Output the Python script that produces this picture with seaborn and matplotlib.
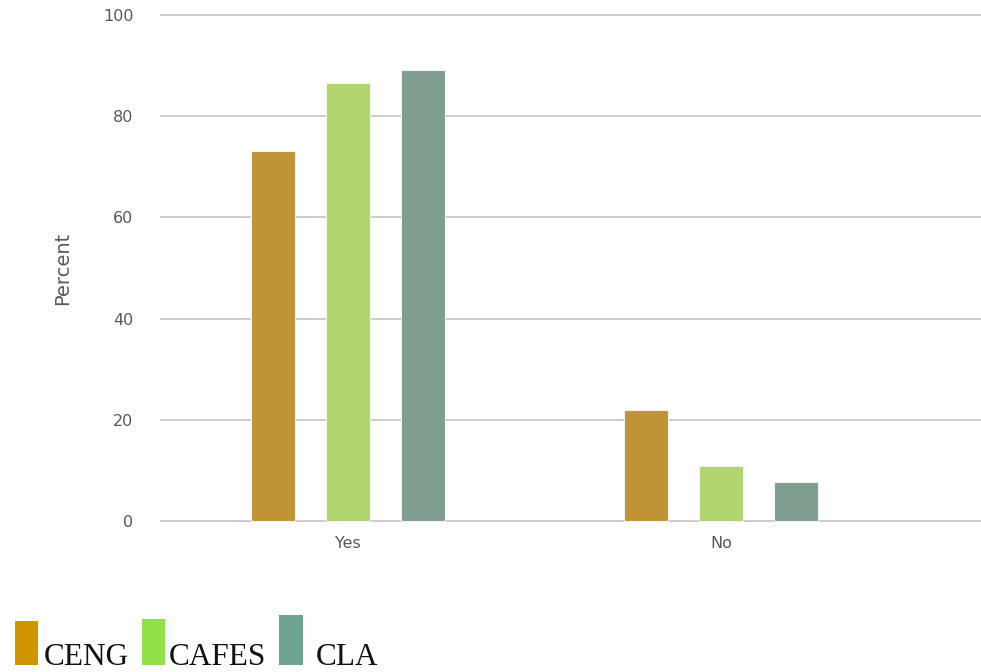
import matplotlib
matplotlib.use("Agg")
import matplotlib.pyplot as plt
from matplotlib.patches import Rectangle
import seaborn as sns
import pandas as pd

# Survey answers by college
answers = ["Yes", "No"]
colleges = ["CENG", "CAFES", "CLA"]
ceng = [73.2, 22.0]
cafes = [86.5, 10.8]
cla = [89.1, 7.8]

bar_colors = ["#C09436", "#B0D46E", "#7F9E90"]
key_colors = ["#D09600", "#90E04A", "#6FA590"]

df = pd.DataFrame({
    "Answer": answers * 3,
    "College": [c for c in colleges for _ in answers],
    "Percent": ceng + cafes + cla,
})

sns.set_theme(style="white")
plt.rcParams["font.family"] = ["DejaVu Sans"]

fig = plt.figure(figsize=(9.81, 6.72), dpi=100)
# axes spans y from -0.3 to 100.3 so the 0 and 100 grid lines show fully
px_per_unit = (521 - 15) / 100.0
bot_px = 521 + 0.3 * px_per_unit
top_px = 15 - 0.3 * px_per_unit
ax = fig.add_axes([160 / 981, 1 - bot_px / 672, 1 - 160 / 981, (bot_px - top_px) / 672])

sns.barplot(
    data=df, x="Answer", y="Percent", hue="College",
    order=answers, hue_order=colleges, palette=bar_colors, saturation=1,
    width=0.603, gap=0.41, edgecolor="#f2f2f2", linewidth=0.8,
    legend=False, ax=ax, zorder=3,
)

ax.set_ylim(-0.3, 100.3)
ax.set_xlim(-0.504, 1.697)
ax.set_yticks([0, 20, 40, 60, 80, 100])
ax.yaxis.grid(True, color="#c4c4c4", linewidth=1.2, zorder=0)
ax.set_axisbelow(True)
for s in ax.spines.values():
    s.set_visible(False)
ax.tick_params(axis="y", length=0, pad=19, labelsize=11.5, labelcolor="#595959")
ax.tick_params(axis="x", length=0, pad=10, labelsize=11.5, labelcolor="#595959")
ax.set_xlabel("")
ax.set_ylabel("Percent", fontsize=14, color="#595959", labelpad=22)

# Key along the bottom edge
serif = ["Liberation Serif", "DejaVu Serif"]
keys = [
    (15, 621, 23, "CENG", 44),
    (142, 619, 23, "CAFES", 169),
    (279, 615, 24, "CLA", 316),
]
for (x0, ytop, w, label, tx), col in zip(keys, key_colors):
    fig.add_artist(Rectangle((x0 / 981, 1 - 665 / 672), w / 981, (665 - ytop) / 672,
                             transform=fig.transFigure, facecolor=col,
                             edgecolor="none"))
    fig.text(tx / 981, 1 - 665 / 672, label, fontsize=22.5, family=serif,
             color="#111111", ha="left", va="baseline")

fig.savefig("out.png", dpi=100)
